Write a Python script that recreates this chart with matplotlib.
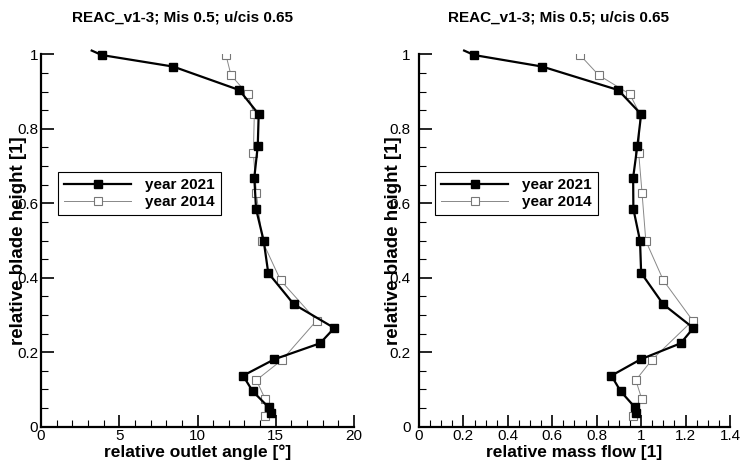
import matplotlib
matplotlib.use('Agg')
import matplotlib.pyplot as plt
from matplotlib.ticker import MultipleLocator

plt.rcParams['font.family'] = ['Liberation Sans', 'DejaVu Sans']

title = 'REAC_v1-3; Mis 0.5; u/cis 0.65'

# year 2021 (first point lies just above the plot frame, drawn without marker)
h_2021 = [1.01, 0.998, 0.967, 0.904, 0.839, 0.754, 0.669, 0.585, 0.499, 0.413,
          0.329, 0.265, 0.224, 0.181, 0.137, 0.095, 0.052, 0.038]
angle_2021 = [3.24, 3.88, 8.45, 12.67, 13.91, 13.85, 13.63, 13.74, 14.23, 14.52,
              16.15, 18.74, 17.83, 14.91, 12.91, 13.53, 14.55, 14.70]
mflow_2021 = [0.203, 0.248, 0.555, 0.897, 1.0, 0.983, 0.964, 0.965, 0.995, 1.0,
              1.099, 1.235, 1.178, 0.998, 0.866, 0.908, 0.972, 0.977]

# year 2014
h_2014 = [0.998, 0.944, 0.893, 0.839, 0.735, 0.628, 0.499, 0.393, 0.285, 0.180,
          0.125, 0.074, 0.030]
angle_2014 = [11.82, 12.14, 13.2, 13.63, 13.57, 13.76, 14.14, 15.31, 17.61, 15.42,
              13.76, 14.33, 14.31]
mflow_2014 = [0.725, 0.809, 0.949, 0.995, 0.989, 1.004, 1.021, 1.1, 1.232, 1.049,
              0.976, 1.003, 0.963]

fig = plt.figure(figsize=(7.4, 4.68), dpi=100)
ax1 = fig.add_axes([41 / 740, 1 - 426.7 / 468, 313 / 740, 372.4 / 468])
ax2 = fig.add_axes([419 / 740, 1 - 426.7 / 468, 311 / 740, 372.4 / 468])


def draw(ax, x21, x14, xmax, xmaj, xmin, xlabel, leg_x, ylab_x, ypad):
    ax.plot(x14, h_2014, color='#888888', lw=0.7, marker='s', ms=6,
            mfc='white', mec='#777777', mew=0.8, label='year 2014', zorder=2)
    ax.plot(x21, h_2021, color='black', lw=1.6, marker='s', ms=6,
            markevery=list(range(1, len(h_2021))), label='year 2021',
            clip_on=False, zorder=3)
    ax.set_xlim(0, xmax)
    ax.set_ylim(0, 1)
    ax.xaxis.set_major_locator(MultipleLocator(xmaj))
    ax.xaxis.set_minor_locator(MultipleLocator(xmin))
    ax.yaxis.set_major_locator(MultipleLocator(0.2))
    ax.yaxis.set_minor_locator(MultipleLocator(0.05))
    ax.yaxis.set_major_formatter(lambda v, p: '%g' % round(v, 2))
    ax.xaxis.set_major_formatter(lambda v, p: '%g' % round(v, 2))
    for s in ['top', 'right']:
        ax.spines[s].set_visible(False)
    for s in ['left', 'bottom']:
        ax.spines[s].set_linewidth(1.6)
    ax.tick_params(which='major', direction='in', length=9, width=1.2,
                   labelsize=11, pad=2)
    ax.tick_params(axis='y', which='major', pad=ypad)
    ax.tick_params(which='minor', direction='in', length=5, width=0.8)
    ax.set_xlabel(xlabel, fontsize=12.5, fontweight='bold', labelpad=1)
    ax.set_ylabel('relative blade height [1]', fontsize=13.5, fontweight='bold')
    ax.yaxis.set_label_coords(ylab_x, 0.5)
    handles, labels = ax.get_legend_handles_labels()
    leg = ax.legend(handles[::-1], labels[::-1], loc='upper left',
                    bbox_to_anchor=leg_x, fancybox=False, framealpha=1,
                    edgecolor='black', handlelength=4.4, numpoints=1,
                    prop={'weight': 'bold', 'size': 11}, borderpad=0.4,
                    labelspacing=0.2, handletextpad=0.9, borderaxespad=0)
    leg.get_frame().set_linewidth(0.8)


draw(ax1, angle_2021, angle_2014, 20, 5, 1, 'relative outlet angle [°]',
     (17 / 313, (426.7 - 172) / 372.4), -0.045, 2)
draw(ax2, mflow_2021, mflow_2014, 1.4, 0.2, 0.05, 'relative mass flow [1]',
     (16 / 311, (426.7 - 172) / 372.4), -0.055, 6)

fig.text(182 / 740, 1 - 17 / 468, title, ha='center', va='center',
         fontsize=11, fontweight='bold')
fig.text(558 / 740, 1 - 17 / 468, title, ha='center', va='center',
         fontsize=11, fontweight='bold')

fig.savefig('out.png', dpi=100)
